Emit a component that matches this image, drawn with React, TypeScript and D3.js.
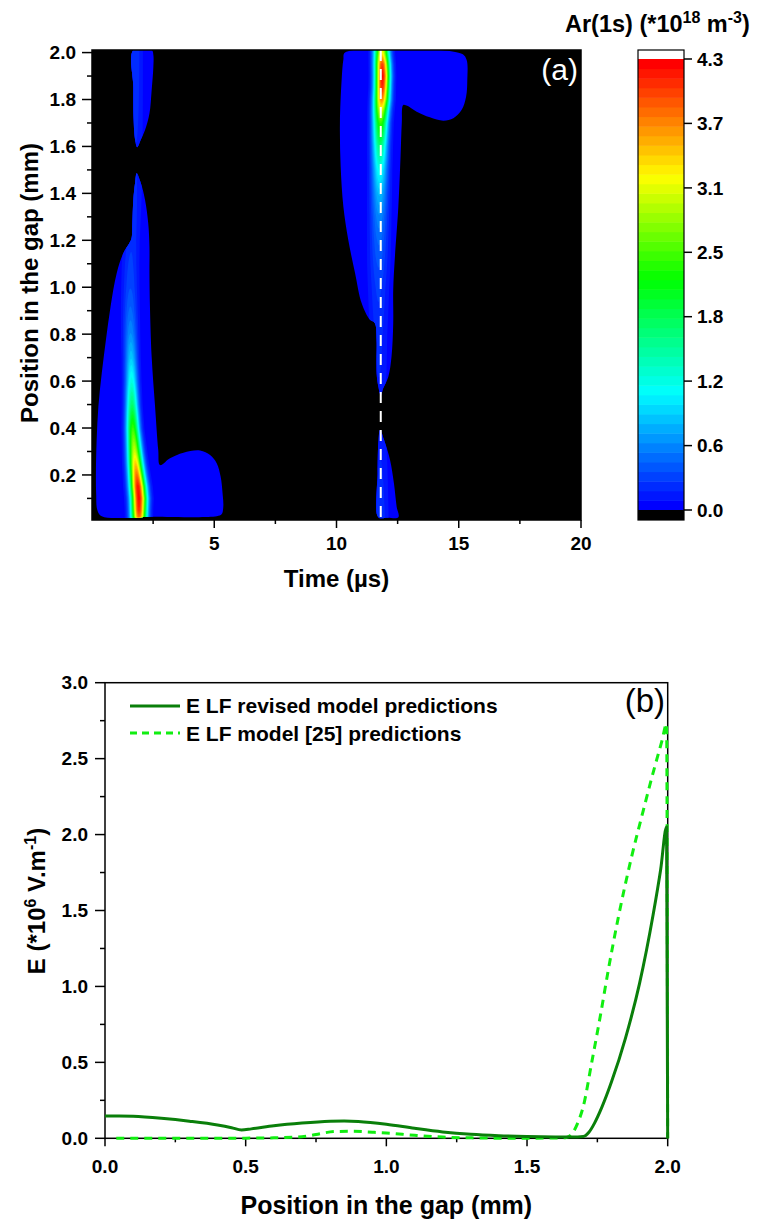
import React, { useMemo } from 'react';
import * as d3 from 'd3';

// ---------- Panel (a): Ar(1s) density map ----------
const timeMajor = [5, 10, 15, 20];
const timeMinor = [2.5, 7.5, 12.5, 17.5];
const gapMajor = [0.2, 0.4, 0.6, 0.8, 1.0, 1.2, 1.4, 1.6, 1.8, 2.0];
const gapMinor = [0.1, 0.3, 0.5, 0.7, 0.9, 1.1, 1.3, 1.5, 1.7, 1.9];
const cbarTicks = [0, 0.614, 1.229, 1.843, 2.457, 3.071, 3.686, 4.3];
const rampStops = [0, 1.1, 2.2, 3.2, 4.3];
const rampColors = ['#0000ff', '#00ffff', '#00ff00', '#ffff00', '#ff0000'];

// region outlines where density > 0 : [time (µs), position (mm)]
const pulse1Upper: [number, number][] = [
  [1.69, 2.01], [2.45, 2.01], [2.51, 1.99], [2.51, 1.94], [2.44, 1.84], [2.35, 1.74],
  [2.17, 1.67], [2.0, 1.63], [1.85, 1.597], [1.76, 1.63], [1.7, 1.72], [1.69, 1.85],
];
const pulse1Main: [number, number][] = [
  [1.83, 1.486], [2.0, 1.443], [2.17, 1.372], [2.3, 1.273], [2.35, 1.173], [2.35, 1.06],
  [2.37, 0.918], [2.44, 0.704], [2.58, 0.491], [2.71, 0.306], [2.78, 0.242], [3.19, 0.271],
  [3.74, 0.295], [4.42, 0.304], [4.83, 0.285], [5.1, 0.25], [5.26, 0.193], [5.34, 0.122],
  [5.37, 0.065], [5.3, 0.032], [5.1, 0.024], [2.5, 0.022], [0.4, 0.024], [0.22, 0.05],
  [0.17, 0.12], [0.16, 0.207], [0.19, 0.349], [0.26, 0.491], [0.4, 0.634], [0.57, 0.776],
  [0.76, 0.918], [1.01, 1.06], [1.28, 1.145], [1.53, 1.188], [1.62, 1.21], [1.65, 1.27],
  [1.69, 1.372], [1.76, 1.443],
];
const pulse2Main: [number, number][] = [
  [10.35, 2.0], [15.12, 1.995], [15.32, 1.969], [15.35, 1.884], [15.3, 1.812], [15.12, 1.756],
  [14.78, 1.72], [14.37, 1.71], [13.82, 1.724], [13.28, 1.748], [12.87, 1.774], [12.73, 1.777],
  [12.67, 1.699], [12.62, 1.557], [12.53, 1.344], [12.39, 1.131], [12.32, 0.989], [12.32, 0.847],
  [12.25, 0.704], [12.12, 0.619], [11.91, 0.569], [11.81, 0.541], [11.71, 0.577], [11.64, 0.633],
  [11.64, 0.776], [11.57, 0.847], [11.37, 0.861], [11.03, 0.932], [10.76, 1.06], [10.48, 1.202],
  [10.28, 1.344], [10.17, 1.514], [10.14, 1.699], [10.21, 1.884], [10.28, 1.969],
];
const pulse2Lower: [number, number][] = [
  [11.78, 0.392], [11.99, 0.335], [12.19, 0.264], [12.35, 0.164], [12.46, 0.065], [12.53, 0.02],
  [12.1, 0.018], [11.71, 0.02], [11.68, 0.207], [11.72, 0.349],
];

// ridge (density maximum) along each discharge
const ridgePos1 = [0.0, 0.05, 0.1, 0.15, 0.2, 0.25, 0.3, 0.4, 0.5, 0.6, 0.7, 0.8, 0.9, 1.0, 1.1, 1.2, 1.4, 1.6, 1.8, 2.0];
const ridgeTime1 = [1.92, 1.92, 1.92, 1.88, 1.83, 1.78, 1.74, 1.67, 1.64, 1.62, 1.6, 1.58, 1.57, 1.57, 1.58, 1.62, 1.75, 1.8, 1.78, 1.76];
const ridgePeak1 = [3.6, 4.1, 4.25, 4.2, 3.8, 3.4, 3.0, 2.4, 1.75, 1.25, 0.9, 0.65, 0.48, 0.36, 0.3, 0.25, 0.2, 0.18, 0.22, 0.25];
const ridgeWidth1 = [0.3, 0.3, 0.31, 0.31, 0.3, 0.29, 0.28, 0.26, 0.25, 0.25, 0.26, 0.28, 0.3, 0.32, 0.33, 0.33, 0.32, 0.32, 0.32, 0.32];
const ridgePos2 = [0.0, 0.2, 0.4, 0.6, 0.8, 1.0, 1.1, 1.2, 1.3, 1.4, 1.5, 1.6, 1.7, 1.75, 1.8, 1.85, 1.9, 1.95, 2.0];
const ridgeTime2 = [11.8, 11.8, 11.78, 11.74, 11.72, 11.72, 11.73, 11.74, 11.75, 11.76, 11.77, 11.78, 11.8, 11.82, 11.85, 11.87, 11.88, 11.87, 11.85];
const ridgePeak2 = [0.25, 0.2, 0.15, 0.18, 0.22, 0.3, 0.38, 0.48, 0.62, 0.85, 1.2, 1.7, 2.4, 3.0, 3.7, 4.1, 4.25, 4.0, 3.2];
const ridgeWidth2 = [0.33, 0.33, 0.33, 0.36, 0.38, 0.4, 0.4, 0.38, 0.36, 0.34, 0.32, 0.31, 0.3, 0.3, 0.3, 0.29, 0.29, 0.29, 0.29];
const markerTime = 11.81;

// ---------- Panel (b): electric field ----------
const eMajorX = [0, 0.5, 1.0, 1.5, 2.0];
const eMinorX = [0.25, 0.75, 1.25, 1.75];
const eMajorY = [0, 0.5, 1.0, 1.5, 2.0, 2.5, 3.0];
const eMinorY = [0.25, 0.75, 1.25, 1.75, 2.25, 2.75];
const revisedPos = [0, 0.05, 0.1, 0.2, 0.3, 0.4, 0.45, 0.485, 0.52, 0.6, 0.7, 0.8, 0.85, 0.9, 1.0, 1.1, 1.2, 1.3, 1.4, 1.5, 1.6, 1.66, 1.7, 1.72, 1.74, 1.765, 1.8, 1.85, 1.9, 1.948, 1.975, 1.996, 2.0];
const revisedE = [0.147, 0.147, 0.145, 0.132, 0.113, 0.088, 0.07, 0.055, 0.062, 0.082, 0.1, 0.112, 0.114, 0.111, 0.093, 0.066, 0.042, 0.026, 0.017, 0.012, 0.009, 0.008, 0.012, 0.04, 0.1, 0.2, 0.37, 0.66, 1.02, 1.47, 1.77, 2.05, 0.0];
const modelPos = [0.04, 0.2, 0.4, 0.5, 0.6, 0.7, 0.75, 0.82, 0.88, 0.95, 1.0, 1.1, 1.2, 1.3, 1.4, 1.5, 1.6, 1.64, 1.66, 1.68, 1.7, 1.73, 1.76, 1.79, 1.824, 1.87, 1.912, 1.95, 1.98, 1.996, 2.0];
const modelE = [0.0, 0.0, 0.0, 0.001, 0.003, 0.01, 0.025, 0.045, 0.046, 0.04, 0.035, 0.02, 0.008, 0.003, 0.001, 0.001, 0.002, 0.006, 0.03, 0.1, 0.21, 0.5, 0.8, 1.12, 1.45, 1.84, 2.15, 2.42, 2.62, 2.73, 0.0];

const FONT = 'Liberation Sans, Arial, sans-serif';

export default function App() {
  // panel (a) geometry
  const aL = 92, aR = 581, aT = 50, aB = 520;
  const xa = d3.scaleLinear().domain([0, 20]).range([aL, aR]);
  const ya = d3.scaleLinear().domain([0.008, 2.011]).range([aB, aT]);
  const pw = aR - aL, ph = aB - aT;

  const vmax = 4.3, N = 47, step = vmax / N;
  const ramp = d3.scaleLinear<string>().domain(rampStops).range(rampColors).interpolate(d3.interpolateRgb);
  const bandColor = (i: number) => ramp((i * vmax) / (N - 1));

  const contours = useMemo(() => {
    const pulses = [
      { pos: ridgePos1, time: ridgeTime1, peak: ridgePeak1, width: ridgeWidth1 },
      { pos: ridgePos2, time: ridgeTime2, peak: ridgePeak2, width: ridgeWidth2 },
    ].map(p => ({
      T: d3.scaleLinear().domain(p.pos).range(p.time).clamp(true),
      A: d3.scaleLinear().domain(p.pos).range(p.peak).clamp(true),
      Wd: d3.scaleLinear().domain(p.pos).range(p.width).clamp(true),
    }));
    const values: number[] = new Array(pw * ph);
    for (let j = 0; j < ph; j++) {
      const pos = ya.invert(aT + j + 0.5);
      const params = pulses.map(f => [f.T(pos), f.A(pos), f.Wd(pos)]);
      for (let i = 0; i < pw; i++) {
        const t = xa.invert(aL + i + 0.5);
        let v = 0;
        for (const [T, A, Wd] of params) {
          const d = (t - T) / Wd;
          if (Math.abs(d) < 5) v += A * Math.exp(-d * d);
        }
        values[j * pw + i] = v;
      }
    }
    const thr = d3.range(1, N).map(i => i * step);
    return d3.contours().size([pw, ph]).thresholds(thr)(values);
  }, []);
  const geo = d3.geoPath();

  const regionLine = d3
    .line<[number, number]>()
    .x(d => xa(d[0]))
    .y(d => ya(d[1]))
    .curve(d3.curveCatmullRomClosed.alpha(0.5));
  const regions = [pulse1Upper, pulse1Main, pulse2Main, pulse2Lower];

  // colorbar
  const cbL = 638, cbR = 684;
  const cb = d3.scaleLinear().domain([0, vmax]).range([510, 59]);

  // panel (b) geometry
  const bL = 105, bR = 667.7, bT = 682.7, bB = 1138.3;
  const xb = d3.scaleLinear().domain([0, 2]).range([bL, bR]);
  const yb = d3.scaleLinear().domain([0, 3]).range([bB, bT]);
  const eLine = d3
    .line<[number, number]>()
    .x(d => xb(d[0]))
    .y(d => yb(d[1]))
    .curve(d3.curveMonotoneX);
  const revisedPath = eLine(revisedPos.map((p, i) => [p, revisedE[i]] as [number, number]));
  const modelPath = eLine(modelPos.map((p, i) => [p, modelE[i]] as [number, number]));

  const solidColor = '#0a7f0a';
  const dashColor = '#11ee11';

  return (
    <svg
      width={762}
      height={1222}
      viewBox="0 0 762 1222"
      style={{ position: 'absolute', left: 0, top: 0, display: 'block', background: '#fff' }}
      fontFamily={FONT}
    >
      <defs>
        <clipPath id="regionClip">
          {regions.map((r, k) => (
            <path key={k} d={regionLine(r) || ''} />
          ))}
        </clipPath>
        <clipPath id="plotA">
          <rect x={aL} y={aT} width={pw} height={ph} />
        </clipPath>
        <clipPath id="plotB">
          <rect x={bL} y={bT - 2} width={bR - bL + 2} height={bB - bT + 4} />
        </clipPath>
      </defs>

      {/* ---------- Panel (a) ---------- */}
      <rect x={aL} y={aT} width={pw} height={ph} fill="#000" />
      <g clipPath="url(#plotA)">
        <g clipPath="url(#regionClip)">
          <rect x={aL} y={aT} width={pw} height={ph} fill={bandColor(0)} />
          <g transform={`translate(${aL},${aT})`}>
            {contours.map((c, i) => (
              <path key={i} d={geo(c as any) || ''} fill={bandColor(i + 1)} />
            ))}
          </g>
        </g>
        <line
          x1={xa(markerTime)}
          x2={xa(markerTime)}
          y1={aT}
          y2={aB}
          stroke="#fff"
          strokeWidth={2}
          strokeDasharray="11,8"
        />
      </g>
      <rect x={aL} y={aT} width={pw} height={ph} fill="none" stroke="#000" strokeWidth={1.5} />

      {/* y axis (a) */}
      {gapMajor.map(v => (
        <g key={'gy' + v}>
          <line x1={aL - 10} x2={aL} y1={ya(v)} y2={ya(v)} stroke="#000" strokeWidth={1.5} />
          <text x={aL - 16} y={ya(v)} dy="0.35em" textAnchor="end" fontSize={19} fontWeight="bold">
            {v.toFixed(1)}
          </text>
        </g>
      ))}
      {gapMinor.map(v => (
        <line key={'gm' + v} x1={aL - 5} x2={aL} y1={ya(v)} y2={ya(v)} stroke="#000" strokeWidth={1.5} />
      ))}
      {/* x axis (a) */}
      {timeMajor.map(v => (
        <g key={'tx' + v}>
          <line x1={xa(v)} x2={xa(v)} y1={aB} y2={aB + 8} stroke="#000" strokeWidth={1.5} />
          <text x={xa(v)} y={550} textAnchor="middle" fontSize={19} fontWeight="bold">
            {v}
          </text>
        </g>
      ))}
      {timeMinor.map(v => (
        <line key={'tm' + v} x1={xa(v)} x2={xa(v)} y1={aB} y2={aB + 4} stroke="#000" strokeWidth={1.5} />
      ))}
      <text x={(aL + aR) / 2} y={587} textAnchor="middle" fontSize={24} fontWeight="bold">
        Time (µs)
      </text>
      <text
        transform={`translate(38,${(aT + aB) / 2 - 2}) rotate(-90)`}
        textAnchor="middle"
        fontSize={24}
        fontWeight="bold"
      >
        Position in the gap (mm)
      </text>
      <text x={578} y={80} textAnchor="end" fontSize={30} fill="#fff">
        (a)
      </text>

      {/* colorbar */}
      <rect x={cbL} y={50} width={cbR - cbL} height={cb(vmax) - 50} fill="#fff" />
      {d3.range(N).map(i => (
        <rect
          key={'cb' + i}
          x={cbL}
          y={cb((i + 1) * step)}
          width={cbR - cbL}
          height={cb(i * step) - cb((i + 1) * step) + 0.5}
          fill={bandColor(i)}
        />
      ))}
      <rect x={cbL} y={cb(0)} width={cbR - cbL} height={520 - cb(0)} fill="#000" />
      <rect x={cbL} y={50} width={cbR - cbL} height={470} fill="none" stroke="#000" strokeWidth={1.2} />
      {cbarTicks.map(v => (
        <g key={'ct' + v}>
          <line x1={cbR} x2={cbR + 8} y1={cb(v)} y2={cb(v)} stroke="#000" strokeWidth={1.5} />
          <text x={cbR + 13} y={cb(v)} dy="0.35em" fontSize={19} fontWeight="bold">
            {v.toFixed(1)}
          </text>
        </g>
      ))}
      <text x={565} y={32} fontSize={23.5} fontWeight="bold">
        Ar(1s) (*10
        <tspan fontSize={16} dy={-9}>
          18
        </tspan>
        <tspan dy={9}> m</tspan>
        <tspan fontSize={16} dy={-9}>
          -3
        </tspan>
        <tspan dy={9}>)</tspan>
      </text>

      {/* ---------- Panel (b) ---------- */}
      <rect x={bL} y={bT} width={bR - bL} height={bB - bT} fill="#fff" stroke="#000" strokeWidth={1.5} />
      {eMajorY.map(v => (
        <g key={'ey' + v}>
          <line x1={bL - 10} x2={bL} y1={yb(v)} y2={yb(v)} stroke="#000" strokeWidth={1.5} />
          <text x={88} y={yb(v)} dy="0.35em" textAnchor="end" fontSize={19} fontWeight="bold">
            {v.toFixed(1)}
          </text>
        </g>
      ))}
      {eMinorY.map(v => (
        <line key={'eym' + v} x1={bL - 5} x2={bL} y1={yb(v)} y2={yb(v)} stroke="#000" strokeWidth={1.5} />
      ))}
      {eMajorX.map(v => (
        <g key={'ex' + v}>
          <line x1={xb(v)} x2={xb(v)} y1={bB} y2={bB + 8} stroke="#000" strokeWidth={1.5} />
          <text x={xb(v)} y={1173} textAnchor="middle" fontSize={19} fontWeight="bold">
            {v.toFixed(1)}
          </text>
        </g>
      ))}
      {eMinorX.map(v => (
        <line key={'exm' + v} x1={xb(v)} x2={xb(v)} y1={bB} y2={bB + 4} stroke="#000" strokeWidth={1.5} />
      ))}
      <text x={(bL + bR) / 2} y={1214} textAnchor="middle" fontSize={25} fontWeight="bold">
        Position in the gap (mm)
      </text>
      <text transform={`translate(45,901) rotate(-90)`} textAnchor="middle" fontSize={24} fontWeight="bold">
        E (*10
        <tspan fontSize={16} dy={-9}>
          6
        </tspan>
        <tspan dy={9}> V.m</tspan>
        <tspan fontSize={16} dy={-9}>
          -1
        </tspan>
        <tspan dy={9}>)</tspan>
      </text>

      <g clipPath="url(#plotB)">
        <path d={modelPath || ''} fill="none" stroke={dashColor} strokeWidth={3} strokeDasharray="8,6" />
        <path d={revisedPath || ''} fill="none" stroke={solidColor} strokeWidth={3} />
      </g>

      {/* legend */}
      <line x1={130} x2={180} y1={706} y2={706} stroke={solidColor} strokeWidth={3} />
      <text x={186} y={713} fontSize={21} fontWeight="bold">
        E LF revised model predictions
      </text>
      <line x1={130} x2={180} y1={733} y2={733} stroke={dashColor} strokeWidth={3} strokeDasharray="7,5" />
      <text x={186} y={741} fontSize={21} fontWeight="bold">
        E LF model [25] predictions
      </text>
      <text x={665} y={712} textAnchor="end" fontSize={33}>
        (b)
      </text>
    </svg>
  );
}
